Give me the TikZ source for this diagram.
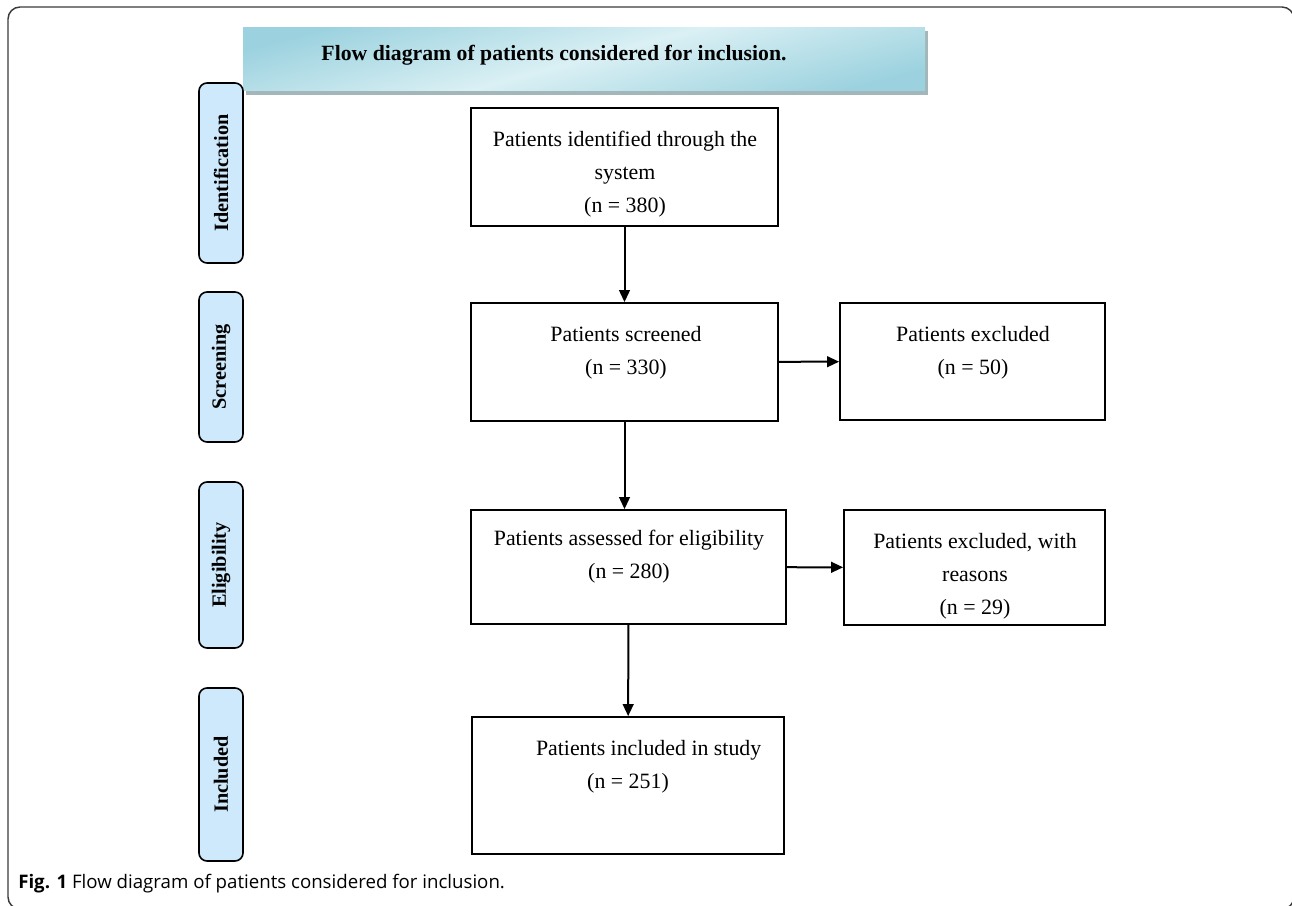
\documentclass[tikz,border=0pt]{standalone}
\usepackage{fontspec}
\setmainfont{Liberation Serif}
\newfontfamily\capfont{Open Sans}
\usetikzlibrary{arrows.meta}

\definecolor{stagefill}{HTML}{CDE9FB}
\definecolor{bannerlight}{HTML}{DAF0F4}
\definecolor{bannerdark}{HTML}{9CD2DF}
\definecolor{bannershadow}{HTML}{A3B6BA}
\definecolor{framegray}{HTML}{3A3A3A}

\begin{document}
\begin{tikzpicture}[x=0.75pt,y=-0.75pt,
  box/.style={draw, line width=1.3pt, inner sep=0pt},
  txt/.style={align=center, inner sep=0pt, font=\fontsize{16.4}{24.75}\selectfont},
  stage/.style={draw, line width=1.2pt, fill=stagefill, rounded corners=6pt, minimum width=33pt, inner sep=0pt},
  stagetxt/.style={rotate=90, inner sep=0pt, font=\fontsize{15.2}{18}\selectfont\bfseries},
  arr/.style={line width=1.5pt, -{Triangle[length=9pt,width=8pt]}}]
\useasboundingbox (0,0) rectangle (1292,906);

% outer frame
\draw[framegray, line width=1.1pt, rounded corners=9pt] (8,7) rectangle (1294,909);

% title banner
\fill[bannershadow] (246,31) rectangle (928,95);
\shade[top color=bannerdark, bottom color=bannerdark, middle color=bannerlight, shading angle=15] (243,28) rectangle (925,91);
\node[inner sep=0pt, font=\fontsize{16.3}{18}\selectfont\bfseries] (title) at (554,55) {Flow diagram of patients considered for inclusion.};

% stages
\node[stage, minimum height=135pt] (identification) at (221,173) {};
\node[stagetxt] at (identification) {Identification};
\node[stage, minimum height=112.5pt] (screening) at (221,367) {};
\node[stagetxt] at (screening) {Screening};
\node[stage, minimum height=124.5pt] (eligibility) at (221,565) {};
\node[stagetxt] at (eligibility) {Eligibility};
\node[stage, minimum height=129.75pt] (included) at (221,774.5) {};
\node[stagetxt] at (included) {Included};

% boxes
\node[box, minimum width=230.25pt, minimum height=88.5pt] (identified) at (624.5,167) {};
\node[txt] at (625,174.5) {Patients identified through the\\system\\(n = 380)};
\node[box, minimum width=230.25pt, minimum height=88.5pt] (screened) at (624.5,362) {};
\node[txt] at (626,352.5) {Patients screened\\(n = 330)};
\node[box, minimum width=198.75pt, minimum height=87.75pt] (excluded) at (972.5,361.5) {};
\node[txt] at (973,353) {Patients excluded\\(n = 50)};
\node[box, minimum width=236.25pt, minimum height=85.5pt] (assessed) at (628.5,567) {};
\node[txt] at (629,557) {Patients assessed for eligibility\\(n = 280)};
\node[box, minimum width=195.75pt, minimum height=86.25pt] (reasons) at (974.5,567.5) {};
\node[txt] at (975,576) {Patients excluded, with\\reasons\\(n = 29)};
\node[box, minimum width=234pt, minimum height=102.75pt] (studied) at (628,785.5) {};
\node[txt] at (628,767) {\hspace*{31pt}Patients included in study\\(n = 251)};

% connectors
\draw[arr] (identified) -- (screened);
\draw[arr] (screened) -- (screened |- assessed.north);
\draw[arr] (screened) -- (excluded);
\draw[arr] (assessed) -- (reasons);
\draw[arr] (assessed) -- (studied);

% caption
\node[anchor=west, inner sep=0pt, font=\capfont\fontsize{14}{16}\selectfont] (caption) at (18,884) {\textbf{Fig. 1} Flow diagram of patients considered for inclusion.};
\end{tikzpicture}
\end{document}
